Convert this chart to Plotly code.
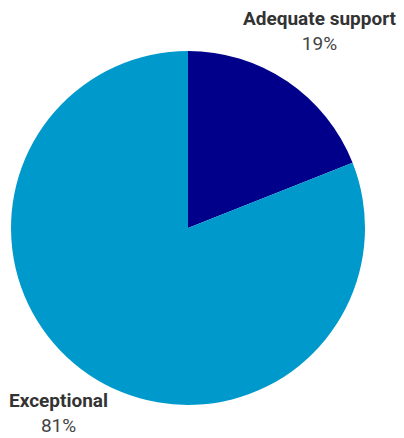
import plotly.graph_objects as go

labels = ["Adequate support", "Exceptional"]
values = [19, 81]
colors = ["#00008a", "#0099cc"]

# caption anchor (pixels from top-left) and vertical anchor for each slice
caption_pos_px = [(320, 6), (59, 438)]
caption_vanchor = ["top", "bottom"]

W, H = 404, 438
cx, cy, r = 188, 228, 177

fig = go.Figure(go.Pie(
    labels=labels,
    values=values,
    marker=dict(colors=colors, line=dict(width=0)),
    sort=False,
    direction="clockwise",
    rotation=0,
    textinfo="none",
    hoverinfo="label+percent",
    showlegend=False,
    domain=dict(x=[(cx - r) / W, (cx + r) / W], y=[1 - (cy + r) / H, 1 - (cy - r) / H]),
))

total = sum(values)
annotations = []
for lab, val, (ax, ay), va in zip(labels, values, caption_pos_px, caption_vanchor):
    pct = round(100 * val / total)
    annotations.append(dict(
        x=ax / W, y=1 - ay / H, xref="paper", yref="paper",
        text=f"<b style='color:#333333'>{lab}</b><br>{pct}%", showarrow=False,
        font=dict(family="Roboto", size=19, color="#444444"),
        xanchor="center", yanchor=va, align="center", borderpad=0,
    ))

fig.update_layout(
    width=W, height=H,
    margin=dict(l=0, r=0, t=0, b=0),
    paper_bgcolor="white", plot_bgcolor="white",
    annotations=annotations,
)

fig.write_html("out.html")
